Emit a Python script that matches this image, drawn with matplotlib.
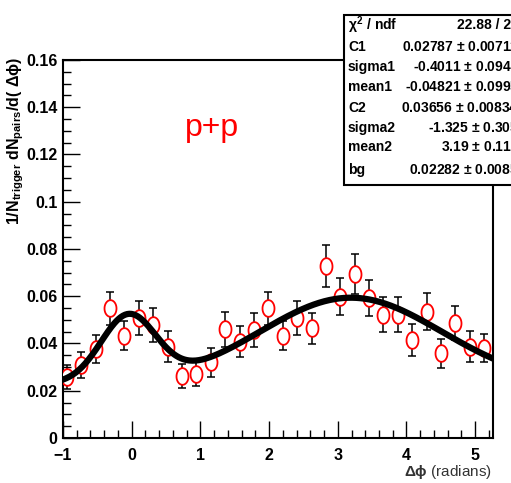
#!/usr/bin/env python
"""p+p azimuthal correlation with double-gaussian + constant fit."""
import numpy as np
import matplotlib.pyplot as plt
from matplotlib.path import Path
from matplotlib.ticker import MultipleLocator

plt.rcParams['font.family'] = ['Liberation Sans', 'DejaVu Sans']
plt.rcParams['mathtext.fontset'] = 'custom'
plt.rcParams['mathtext.rm'] = 'Liberation Sans:bold'
plt.rcParams['mathtext.it'] = 'Liberation Sans:bold'

# 30 bins over 2pi, starting at -pi/3
dphi = [-0.942, -0.733, -0.524, -0.314, -0.105, 0.105, 0.314, 0.524, 0.733, 0.942,
        1.152, 1.361, 1.571, 1.780, 1.990, 2.199, 2.409, 2.618, 2.827, 3.037,
        3.246, 3.456, 3.665, 3.875, 4.084, 4.294, 4.503, 4.712, 4.922, 5.131]
yield_pp = [0.0260, 0.0309, 0.0377, 0.0549, 0.0433, 0.0507, 0.0478, 0.0387, 0.0264, 0.0271,
            0.0320, 0.0461, 0.0408, 0.0457, 0.0549, 0.0433, 0.0507, 0.0464, 0.0728, 0.0598,
            0.0693, 0.0592, 0.0521, 0.0521, 0.0415, 0.0535, 0.0359, 0.0486, 0.0387, 0.0380]
yield_err = [0.0051, 0.0054, 0.0059, 0.0071, 0.0061, 0.0071, 0.0071, 0.0064, 0.0051, 0.0050,
             0.0060, 0.0074, 0.0065, 0.0071, 0.0071, 0.0062, 0.0071, 0.0067, 0.0088, 0.0078,
             0.0085, 0.0075, 0.0074, 0.0074, 0.0069, 0.0078, 0.0062, 0.0071, 0.0065, 0.0059]

# fit results (from the stats box)
C1, sigma1, mean1 = 0.02787, -0.4011, -0.04821
C2, sigma2, mean2 = 0.03656, -1.325, 3.19
bg = 0.02282

stat_names = ["$\\chi^{2}$ / ndf", "C1", "sigma1", "mean1", "C2", "sigma2", "mean2", "bg"]
stat_vals = ["22.88 / 23", "0.02787 $\\pm$ 0.00712", "-0.4011 $\\pm$ 0.0946",
             "-0.04821 $\\pm$ 0.0995", "0.03656 $\\pm$ 0.00834", "-1.325 $\\pm$ 0.305",
             "3.19 $\\pm$ 0.112", "0.02282 $\\pm$ 0.0085"]

fig = plt.figure(figsize=(5.11, 4.83), dpi=100)
ax = fig.add_axes([0.1233, 0.0932, 0.8415, 0.7826])

# tall ellipse marker, the original is stretched vertically
t = np.linspace(0, 2 * np.pi, 40)
ell = Path(np.column_stack([0.36 * np.cos(t), 0.5 * np.sin(t)]), closed=True)

ax.errorbar(dphi, yield_pp, yerr=yield_err, fmt='none', ecolor='black',
            elinewidth=1.1, capsize=3, capthick=1.1, zorder=2)
ax.plot(dphi, yield_pp, linestyle='none', marker=ell, markersize=12,
        markerfacecolor='white', markeredgecolor='red', markeredgewidth=1.3, zorder=3)

xf = np.linspace(-1.0, 5.22, 400)
yf = (bg + C1 * np.exp(-0.5 * ((xf - mean1) / sigma1) ** 2)
      + C2 * np.exp(-0.5 * ((xf - mean2) / sigma2) ** 2))
ax.plot(xf, yf, color='black', linewidth=4.5, zorder=4)

ax.set_xlim(-1.0, 5.26)
ax.set_ylim(0, 0.16)
ax.xaxis.set_major_locator(MultipleLocator(1))
ax.xaxis.set_minor_locator(MultipleLocator(0.2))
ax.yaxis.set_minor_locator(MultipleLocator(0.005))
ax.set_yticks([0, 0.02, 0.04, 0.06, 0.08, 0.1, 0.12, 0.14, 0.16])
ax.set_yticklabels(["0", "0.02", "0.04", "0.06", "0.08", "0.1", "0.12", "0.14", "0.16"])
ax.tick_params(which='both', direction='in', top=False, right=False,
               labelsize=11.5, width=1)
ax.tick_params(axis='y', pad=4)
ax.tick_params(axis='x', pad=7)
ax.tick_params(which='major', length=12)
ax.tick_params(which='minor', length=6)
for lab in ax.get_xticklabels() + ax.get_yticklabels():
    lab.set_fontweight('bold')
for sp in ax.spines.values():
    sp.set_linewidth(1.5)

fig.text(0.03, 0.882, r"1/N$_{\rm trigger}$ dN$_{\rm pairs}$/d( $\Delta\phi$)",
         rotation=90, ha='center', va='top', fontsize=11.5, fontweight='bold')
fig.text(0.963, 0.004, r"$\Delta\phi$ (radians)", ha='right', va='bottom',
         fontsize=11, color='#333333')
ax.text(0.284, 0.82, "p+p", transform=ax.transAxes, color='red', fontsize=23,
        ha='left', va='center')

# stats box, runs off the right edge like the original
box = plt.Rectangle((344 / 511, 1 - 185 / 483), 0.5, 170 / 483, transform=fig.transFigure,
                    facecolor='white', edgecolor='black', linewidth=1.5, zorder=10)
fig.patches.append(box)
row_y = [25, 47, 67, 87, 108, 128, 147, 170]
for name, val, ry in zip(stat_names, stat_vals, row_y):
    fig.text(348 / 511, 1 - ry / 483, name, ha='left', va='center', fontsize=10,
             fontweight='bold', zorder=11)
    fig.text(519 / 511, 1 - ry / 483, val, ha='right', va='center', fontsize=10,
             fontweight='bold', zorder=11)

fig.savefig("out.png", dpi=100)
